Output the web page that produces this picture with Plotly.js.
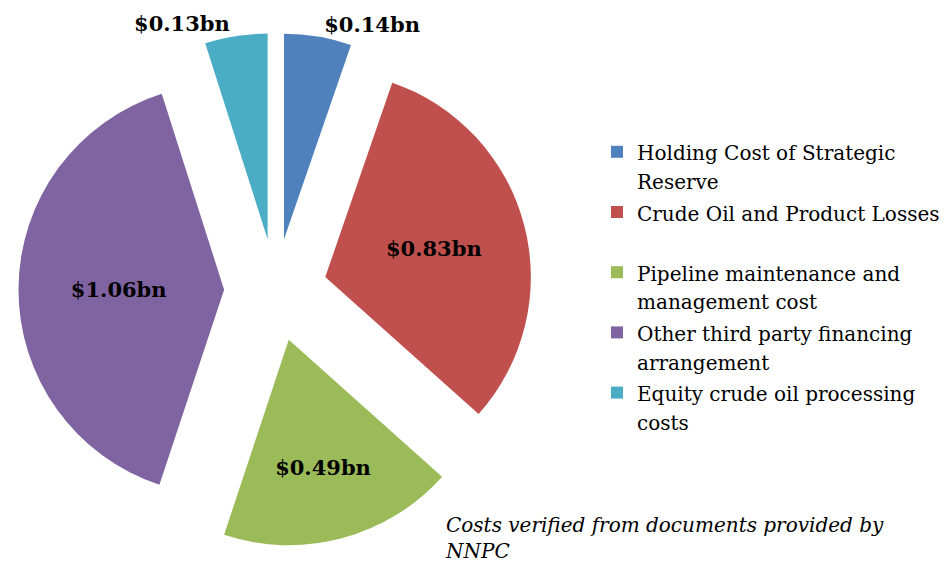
<!DOCTYPE html>
<html>
<head>
<meta charset="utf-8">
<script src="https://cdn.plot.ly/plotly-3.0.1.min.js"></script>
<style>html,body{margin:0;padding:0;background:#fff;}#chart{width:950px;height:565px;}</style>
</head>
<body>
<div id="chart"></div>
<script>
const categories = [
  "Holding Cost of Strategic<br>Reserve",
  "Crude Oil and Product Losses",
  "Pipeline maintenance and<br>management cost",
  "Other third party financing<br>arrangement",
  "Equity crude oil processing<br>costs"
];
const valuesBn = [0.14, 0.83, 0.49, 1.06, 0.13];
const sliceColors = ["#4F81BD", "#C0504D", "#9BBB59", "#8064A2", "#4BACC6"];
const labelPositions = ["outside", "inside", "inside", "inside", "outside"];
const footnote = "Costs verified from documents provided by<br>NNPC";

const serif = "Georgia, 'DejaVu Serif', serif";

// legend text drawn at 20px while the legend line pitch follows a 22px font
const legendLabels = categories.map(function (c) {
  return c.split("<br>").map(function (line) {
    return "<span style='font-size:20px'>" + line + "</span>";
  }).join("<br>");
});
// the reference leaves an extra blank line after the second entry
legendLabels[1] += "<br>&nbsp;";

const trace = {
  type: "pie",
  labels: legendLabels,
  values: valuesBn,
  sort: false,
  direction: "clockwise",
  rotation: 0,
  pull: 0.25,
  marker: {colors: sliceColors, line: {width: 0}},
  texttemplate: "<b>$%{value:.2f}bn</b>",
  textposition: labelPositions,
  insidetextorientation: "horizontal",
  textfont: {family: serif, size: 21, color: "#000"},
  outsidetextfont: {family: serif, size: 21, color: "#000"},
  hoverinfo: "label+value",
  domain: {x: [18.5/950, 532.5/950], y: [1 - 547/565, 1 - 33/565]},
  showlegend: true
};

const layout = {
  width: 950,
  height: 565,
  margin: {l: 0, r: 0, t: 0, b: 0},
  paper_bgcolor: "#fff",
  showlegend: true,
  legend: {
    x: 597/950, y: 1 - 131/565, xanchor: "left", yanchor: "top",
    valign: "top",
    font: {family: serif, size: 22, color: "#000"},
    itemclick: false, itemdoubleclick: false,
    tracegroupgap: 0
  },
  annotations: [{
    xref: "paper", yref: "paper",
    x: 443/950, y: 1 - 511/565, xanchor: "left", yanchor: "top",
    text: "<i>" + footnote + "</i>",
    showarrow: false, align: "left",
    font: {family: serif, size: 20, color: "#000"}
  }]
};

Plotly.newPlot("chart", [trace], layout, {displayModeBar: false, staticPlot: true});
</script>
</body>
</html>
